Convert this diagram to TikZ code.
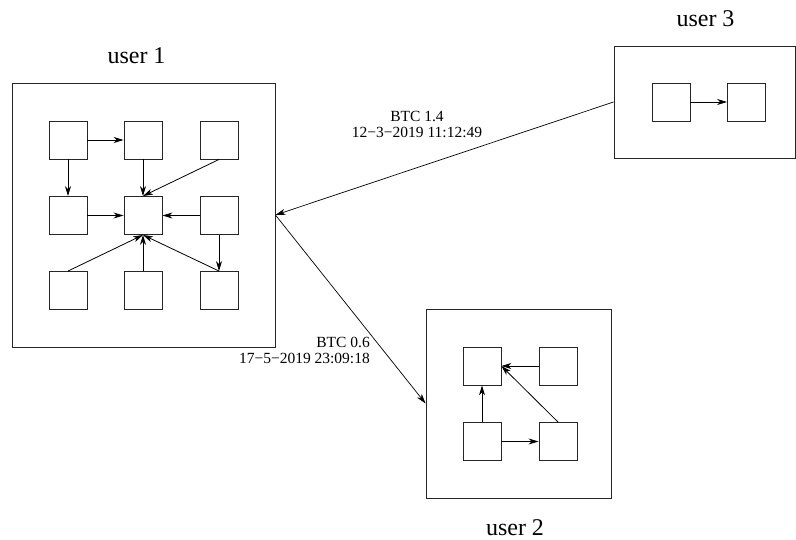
\documentclass[tikz,border=0pt]{standalone}
\usepackage{fontspec}
\setmainfont{Liberation Serif}
\usetikzlibrary{arrows.meta}
\begin{document}
\begin{tikzpicture}[x=1pt,y=-1pt,
  cell/.style={draw=black!85,line width=0.9pt,minimum width=38pt,minimum height=38pt,inner sep=0pt},
  userbox/.style={draw=black!85,line width=0.9pt,inner sep=0pt},
  title/.style={font=\fontsize{24}{26}\selectfont,inner sep=0pt,anchor=base},
  txlabel/.style={font=\fontsize{15.5}{15.6}\selectfont,inner sep=0pt},
  link/.style={line width=0.8pt,-{Stealth[length=10pt,width=6pt,inset=3pt]}},
  transfer/.style={line width=0.7pt,-{Stealth[length=10pt,width=6pt,inset=3pt]}}]
\useasboundingbox (0,0) rectangle (796,540);

% user 1 wallet with its nine addresses
\node[userbox,minimum width=263pt,minimum height=264pt] (u1) at (143.5,215) {};
\node[title] (t1) at (136.5,64) {user 1};
\node[cell] (a11) at (68,140) {};
\node[cell] (a12) at (143,140) {};
\node[cell] (a13) at (219,140) {};
\node[cell] (a21) at (68,215.5) {};
\node[cell] (a22) at (143,215.5) {};
\node[cell] (a23) at (219,215.5) {};
\node[cell] (a31) at (68,290.5) {};
\node[cell] (a32) at (143,290.5) {};
\node[cell] (a33) at (219,290.5) {};
\draw[link] (a11.east) -- (a12.west);
\draw[link] (a11.south) -- (a21.north);
\draw[link] (a12.south) -- (a22.north);
\draw[link] (a13.south) -- (a22.north);
\draw[link] (a21.east) -- (a22.west);
\draw[link] (a23.west) -- (a22.east);
\draw[link] (a23.south) -- (a33.north);
\draw[link] (a31.north) -- (a22.south);
\draw[link] (a32.north) -- (a22.south);
\draw[link] (a33.north) -- (a22.south);

% user 3 wallet
\node[userbox,minimum width=181pt,minimum height=112pt] (u3) at (704.5,102) {};
\node[title] (t3) at (705.5,26.7) {user 3};
\node[cell] (c1) at (671,102) {};
\node[cell] (c2) at (746.5,102) {};
\draw[link] (c1.east) -- (c2.west);

% user 2 wallet
\node[userbox,minimum width=185pt,minimum height=189pt] (u2) at (518.5,403.5) {};
\node[title] (t2) at (515,535.5) {user 2};
\node[cell] (b11) at (482,366) {};
\node[cell] (b12) at (558,366) {};
\node[cell] (b21) at (482,441.5) {};
\node[cell] (b22) at (558,441.5) {};
\draw[link] (b12.west) -- (b11.east);
\draw[link] (b21.north) -- (b11.south);
\draw[link] (b21.east) -- (b22.west);
\draw[link] (b22.north) -- (b11.east);

% transfers between users, with amount and time stamp
\draw[transfer] (u3.west) -- (u1.east);
\draw[transfer] (u1.east) -- (u2.west);
\node[txlabel,align=center,anchor=base] (l1) at (417,137.3) {BTC 1.4\\12−3−2019 11:12:49};
\node[txlabel,align=right,anchor=base east] (l2) at (370,363.3) {BTC 0.6\\17−5−2019 23:09:18};
\end{tikzpicture}
\end{document}
